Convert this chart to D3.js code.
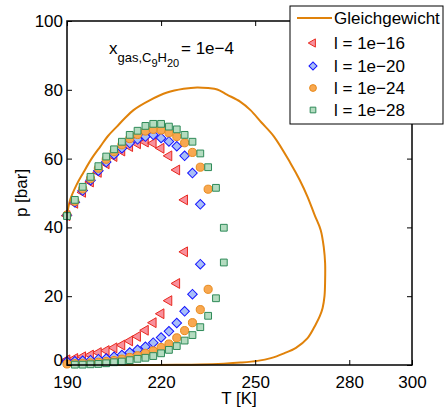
<!DOCTYPE html>
<html>
<head>
<meta charset="utf-8">
<script src="https://cdn.jsdelivr.net/npm/d3@7"></script>
<style>
  body { margin: 0; background: #fff; }
  svg { display: block; font-family: "Liberation Sans", Arial, sans-serif; }
</style>
</head>
<body>
<div id="chart"></div>
<script>
// equilibrium envelope (Gleichgewicht)
const eqT = [190, 191, 193, 195.2, 198, 200.6, 203, 205.9, 208.5, 211.2, 216.5, 221.9, 227.2, 231.5, 235, 237.9, 241, 245.3, 248.5, 252, 256, 261.3, 264.2, 266.7, 269, 270.9, 271.9, 272.3, 272.3, 272.1, 271.5, 270.6, 269.3, 266.7, 263, 259.2, 255, 250.7, 245.3, 240, 232.5, 225, 215, 205, 190];
const eqP = [43.5, 48, 52.3, 55.9, 60.2, 63.5, 66.5, 69.3, 71.8, 74.1, 77, 79.2, 80.3, 80.7, 80.5, 80.1, 78.6, 76.5, 74.1, 70.5, 66.4, 58.6, 53.8, 48.9, 43.5, 39.2, 34, 29.6, 24.5, 20, 16.6, 14.2, 11.8, 7.8, 5, 3.4, 2, 1.2, 0.7, 0.4, 0.15, 0.05, 0, 0, 0];

// l = 1e-16
const t16 = [190, 192.5, 195, 197.5, 200, 202.5, 205, 207.5, 210, 212.5, 215, 217.5, 220, 222.5, 225, 227.5,
             227.5, 225, 222.5, 220, 217.5, 215, 212.5, 210, 207.5, 205, 202.5, 200, 197.5, 195, 192.5, 190];
const p16 = [43.4, 47, 50.2, 53.2, 56, 58.5, 60.6, 62.2, 63.5, 64.3, 64.8, 64.5, 63, 60.8, 56.7, 48,
             32.9, 23.7, 18.7, 14.9, 12.3, 10.1, 8.3, 7, 5.8, 5, 4.2, 3.6, 2.9, 2.4, 1.9, 1.5];

// l = 1e-20
const t20 = [190, 192.5, 195, 197.5, 200, 202.5, 205, 207.5, 210, 212.5, 215, 217.5, 220, 222.5, 225, 227.5, 230, 232.5,
             232.5, 230, 227.5, 225, 222.5, 220, 217.5, 215, 212.5, 210, 207.5, 205, 202.5, 200, 197.5, 195, 192.5, 190];
const p20 = [43.5, 47.3, 50.7, 53.7, 56.5, 59, 61.2, 63, 64.5, 65.6, 66.4, 66.9, 66, 65, 63.6, 60.8, 55.8, 46.7,
             29.3, 20.6, 15.6, 12.2, 9.8, 8, 6.5, 5.3, 4.4, 3.6, 2.9, 2.4, 1.9, 1.7, 1.4, 1.2, 1.1, 1.0];

// l = 1e-24
const t24 = [190, 192.5, 195, 197.5, 200, 202.5, 205, 207.5, 210, 212.5, 215, 217.5, 220, 222.5, 225, 227.5, 230, 232.5, 235,
             235, 232.5, 230, 227.5, 225, 222.5, 220, 217.5, 215, 212.5, 210, 207.5, 205, 202.5, 200, 197.5, 195, 192.5, 190];
const p24 = [43.6, 47.6, 51.2, 54.2, 57.2, 59.8, 62, 64, 65.8, 67, 68, 68.5, 68.3, 67.5, 66.4, 64.6, 61.8, 57.5, 51.1,
             22, 16.1, 12.3, 10, 7.9, 6.1, 5.1, 4.1, 3.4, 2.7, 2.2, 1.7, 1.3, 1.0, 0.8, 0.6, 0.5, 0.4, 0.3];

// l = 1e-28
const t28 = [190, 192.5, 195, 197.5, 200, 202.5, 205, 207.5, 210, 212.5, 215, 217.5, 220, 222.5, 225, 227.5, 230, 232.5, 235, 237.5,
             240, 240,
             237.5, 235, 232.5, 230, 227.5, 225, 222.5, 220, 217.5, 215, 212.5, 210, 207.5, 205, 202.5, 200, 197.5, 195, 192.5];
const p28 = [43.3, 48, 51.8, 54.7, 57.8, 60.6, 62.7, 64.9, 66.9, 68.1, 69.5, 70.1, 70.1, 69.3, 68.5, 66.9, 64.9, 61.5, 57.5, 51.5,
             39.9, 29.8,
             19.4, 14.3, 11, 8.7, 7.1, 5.5, 4.4, 3.4, 2.6, 2.1, 1.8, 1.4, 1.0, 0.8, 0.5, 0.3, 0.2, 0.1, 0.1];

const xTicks = [190, 220, 250, 280, 300];
const yTicks = [0, 20, 40, 60, 80, 100];
const legendLabels = ["Gleichgewicht", "l = 1e\u221216", "l = 1e\u221220", "l = 1e\u221224", "l = 1e\u221228"];

const width = 444, height = 407;
const mLeft = 67, mRight = 412, mTop = 21, mBottom = 365;

const x = d3.scaleLinear().domain([190, 300]).range([mLeft, mRight]);
const y = d3.scaleLinear().domain([0, 100]).range([mBottom, mTop]);

const svg = d3.select("#chart").append("svg")
    .attr("width", width)
    .attr("height", height);

const zip = (ts, ps) => ts.map((t, i) => [t, ps[i]]);

// marker styles, drawn in this order
const series = [
  { T: t16, P: p16, shape: d3.symbolTriangle, size: 42, rot: -90, fill: "#f8909c", stroke: "#e8281e" },
  { T: t20, P: p20, shape: d3.symbolSquare, size: 46, rot: 45, fill: "#a8bef8", stroke: "#1414ff" },
  { T: t24, P: p24, shape: d3.symbolCircle, size: 52, rot: 0, fill: "#f8a850", stroke: "#e88a1c" },
  { T: t28, P: p28, shape: d3.symbolSquare, size: 46, rot: 0, fill: "#b4dcc0", stroke: "#2e8a58" }
];

// equilibrium curve
const line = d3.line().x(d => x(d[0])).y(d => y(d[1])).curve(d3.curveCatmullRom);
svg.append("path")
    .datum(zip(eqT, eqP))
    .attr("d", line)
    .attr("fill", "none")
    .attr("stroke", "#e0820a")
    .attr("stroke-width", 2);

series.forEach(s => {
  svg.append("g").selectAll("path")
    .data(zip(s.T, s.P))
    .join("path")
      .attr("d", d3.symbol().type(s.shape).size(s.size))
      .attr("transform", d => `translate(${x(d[0])},${y(d[1])}) rotate(${s.rot})`)
      .attr("fill", s.fill)
      .attr("stroke", s.stroke)
      .attr("stroke-width", 1);
});

// axes with inward ticks
const fontSize = "17px";
const gx = svg.append("g").attr("transform", `translate(0,${mBottom})`)
    .call(d3.axisBottom(x).tickValues(xTicks).tickSize(-5).tickPadding(11).tickFormat(d3.format("d")));
const gy = svg.append("g").attr("transform", `translate(${mLeft},0)`)
    .call(d3.axisLeft(y).tickValues(yTicks).tickSize(-5).tickPadding(4));
const gt = svg.append("g").attr("transform", `translate(0,${mTop})`)
    .call(d3.axisTop(x).tickValues(xTicks).tickSize(-5).tickFormat(""));
const gr = svg.append("g").attr("transform", `translate(${mRight},0)`)
    .call(d3.axisRight(y).tickValues(yTicks).tickSize(-5).tickFormat(""));

[gx, gy, gt, gr].forEach(g => {
  g.select(".domain").remove();
  g.selectAll("line").attr("stroke", "#000");
  g.selectAll("text").attr("fill", "#000").style("font-size", fontSize).style("font-family", "Liberation Sans, Arial, sans-serif");
});
// lift the "0" a little so it clears the "190" below it
gy.selectAll(".tick").filter(d => d === 0).select("text").attr("dy", "0.05em");

svg.append("rect")
    .attr("x", mLeft).attr("y", mTop)
    .attr("width", mRight - mLeft).attr("height", mBottom - mTop)
    .attr("fill", "none").attr("stroke", "#000").attr("stroke-width", 1.5);

// axis titles
svg.append("text")
    .attr("x", 239).attr("y", 404)
    .attr("text-anchor", "middle")
    .style("font-size", fontSize)
    .text("T [K]");
svg.append("text")
    .attr("transform", "translate(27,193) rotate(-90)")
    .attr("text-anchor", "middle")
    .style("font-size", fontSize)
    .text("p [bar]");

// annotation x_{gas,C9H20} = 1e-4
const ann = svg.append("text").attr("x", 109).attr("y", 54).style("font-size", "17px");
ann.append("tspan").text("x");
ann.append("tspan").attr("dy", 8).style("font-size", "13px").text("gas,C");
ann.append("tspan").attr("dy", 5).style("font-size", "11px").text("9");
ann.append("tspan").attr("dy", -5).style("font-size", "13px").text("H");
ann.append("tspan").attr("dy", 5).style("font-size", "11px").text("20");
ann.append("tspan").attr("dy", -13).attr("x", 181).text("= 1e\u22124");

// legend
const lg = svg.append("g");
lg.append("rect")
    .attr("x", 290).attr("y", 6).attr("width", 153).attr("height", 118)
    .attr("fill", "#fff").attr("stroke", "#000").attr("stroke-width", 1);
lg.append("line")
    .attr("x1", 297).attr("x2", 332).attr("y1", 18).attr("y2", 18)
    .attr("stroke", "#e0820a").attr("stroke-width", 2);
const rowY = [18, 43, 66, 88, 110];
legendLabels.forEach((lab, i) => {
  lg.append("text")
      .attr("x", 334).attr("y", rowY[i]).attr("dy", "0.35em")
      .style("font-size", fontSize)
      .text(lab);
  if (i > 0) {
    const s = series[i - 1];
    lg.append("path")
        .attr("d", d3.symbol().type(s.shape).size(s.size * 0.7))
        .attr("transform", `translate(313,${rowY[i]}) rotate(${s.rot})`)
        .attr("fill", s.fill)
        .attr("stroke", s.stroke)
        .attr("stroke-width", 1);
  }
});
</script>
</body>
</html>
